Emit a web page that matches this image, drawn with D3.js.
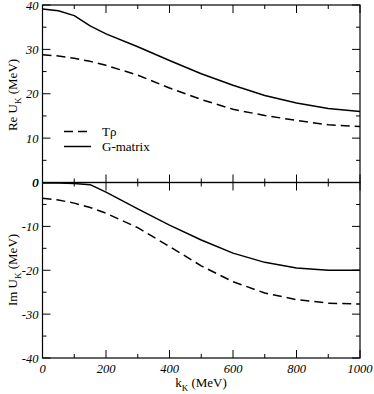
<!DOCTYPE html>
<html>
<head>
<meta charset="utf-8">
<script src="https://cdn.jsdelivr.net/npm/d3@7"></script>
<style>
  body { margin: 0; background: #fff; }
</style>
</head>
<body>
<svg id="svg"></svg>
<script>
// momenta (MeV)
var k_vals   = [0, 50, 100, 150, 200, 300, 400, 500, 600, 700, 800, 900, 1000];
// Re U_K (MeV)
var re_trho  = [28.8, 28.5, 28.0, 27.3, 26.4, 24.2, 21.3, 18.7, 16.5, 15.1, 14.0, 13.0, 12.6];
var re_gmat  = [39.1, 38.7, 37.6, 35.3, 33.5, 30.6, 27.5, 24.5, 21.9, 19.6, 17.9, 16.7, 16.0];
// Im U_K (MeV)
var im_trho  = [-3.6, -4.0, -4.7, -5.7, -7.0, -10.3, -14.6, -19.0, -22.6, -25.2, -26.7, -27.5, -27.7];
var im_gmat  = [-0.1, -0.1, -0.2, -0.5, -2.2, -6.0, -9.7, -13.1, -16.1, -18.2, -19.5, -20.0, -20.0];

var x_ticks  = [0, 200, 400, 600, 800, 1000];
var re_ticks = [0, 10, 20, 30, 40];
var im_ticks = [0, -10, -20, -30, -40];

var legend   = [{label: "T\u03c1", dash: "9,5"}, {label: "G-matrix", dash: null}];

var W = 374, H = 394;
var left = 42.5, right = 360, top0 = 5, mid = 182.5, bot = 358;
var serif = "'Liberation Serif', 'Times New Roman', 'DejaVu Serif', serif";

var svg = d3.select("#svg").attr("width", W).attr("height", H)
	.attr("font-family", serif);

var x = d3.scaleLinear().domain([0, 1000]).range([left, right]);
var yRe = d3.scaleLinear().domain([0, 40]).range([mid, top0]);
var yIm = d3.scaleLinear().domain([-40, 0]).range([bot, mid]);

var minorX = d3.range(0, 1001, 100);

function panel(y, ticks, minor, showX) {
	var g = svg.append("g");
	var y0 = y.range()[0], y1 = y.range()[1];
	// ticks on all four sides, pointing inward
	minorX.forEach(function(v) {
		var len = (v % 200 === 0) ? 8 : 4;
		g.append("line").attr("x1", x(v)).attr("x2", x(v)).attr("y1", y0).attr("y2", y0 - len);
		g.append("line").attr("x1", x(v)).attr("x2", x(v)).attr("y1", y1).attr("y2", y1 + len);
	});
	minor.forEach(function(v) {
		var len = (v % 10 === 0) ? 8 : 4;
		g.append("line").attr("x1", left).attr("x2", left + len).attr("y1", y(v)).attr("y2", y(v));
		g.append("line").attr("x1", right).attr("x2", right - len).attr("y1", y(v)).attr("y2", y(v));
	});
	g.selectAll("line").attr("stroke", "#000").attr("stroke-width", 1);
	g.append("rect").attr("x", left).attr("y", y1).attr("width", right - left).attr("height", y0 - y1)
		.attr("fill", "none").attr("stroke", "#000").attr("stroke-width", 1.2);
	// y tick labels
	g.selectAll(".yl").data(ticks).enter().append("text")
		.attr("x", left - 4).attr("y", function(d) { return y(d) + 4.5; })
		.attr("text-anchor", "end").attr("font-size", 12.5).attr("font-style", "italic")
		.text(function(d) { return d; });
	if (showX) {
		g.selectAll(".xl").data(x_ticks).enter().append("text")
			.attr("x", function(d) { return x(d); }).attr("y", bot + 15)
			.attr("text-anchor", "middle").attr("font-size", 12.5).attr("font-style", "italic")
			.text(function(d) { return d; });
	}
	return g;
}

panel(yRe, re_ticks, d3.range(0, 41, 5), false);
panel(yIm, im_ticks, d3.range(-40, 1, 5), true);

function curve(y, vals, dash) {
	var line = d3.line().x(function(d, i) { return x(k_vals[i]); }).y(function(d) { return y(d); });
	svg.append("path").datum(vals).attr("d", line)
		.attr("fill", "none").attr("stroke", "#000").attr("stroke-width", 1.5)
		.attr("stroke-linejoin", "round").attr("stroke-dasharray", dash);
}

curve(yRe, re_trho, "9,5");
curve(yRe, re_gmat, null);
curve(yIm, im_trho, "9,5");
curve(yIm, im_gmat, null);

// legend
legend.forEach(function(d, i) {
	var ly = 131.5 + i * 15;
	svg.append("line").attr("x1", 64).attr("x2", 91).attr("y1", ly).attr("y2", ly)
		.attr("stroke", "#000").attr("stroke-width", 1.5).attr("stroke-dasharray", d.dash);
	svg.append("text").attr("x", 102).attr("y", ly + 4.5).attr("font-size", 13).text(d.label);
});

// axis titles
function ytitle(name, cy) {
	var t = svg.append("text").attr("transform", "translate(17," + cy + ") rotate(-90)")
		.attr("text-anchor", "middle").attr("font-size", 13);
	t.append("tspan").text(name + " U");
	t.append("tspan").attr("font-size", 9).attr("dy", 4).text("K");
	t.append("tspan").attr("dy", -4).text(" (MeV)");
}
ytitle("Re", 95);
ytitle("Im", 270);

var xt = svg.append("text").attr("x", 201).attr("y", 387).attr("text-anchor", "middle").attr("font-size", 13);
xt.append("tspan").text("k");
xt.append("tspan").attr("font-size", 9).attr("dy", 4).text("K");
xt.append("tspan").attr("dy", -4).text(" (MeV)");
</script>
</body>
</html>
